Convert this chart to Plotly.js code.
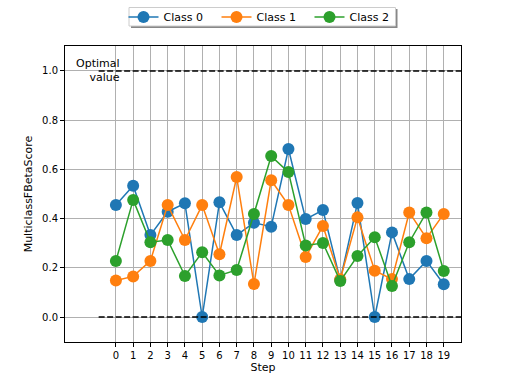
<!DOCTYPE html>
<html><head><meta charset="utf-8">
<script src="https://cdn.plot.ly/plotly-3.0.1.min.js"></script>
<style>body{margin:0;background:#fff}#c{width:512px;height:384px}</style>
</head><body><div id="c"></div>
<script>
const steps = [0,1,2,3,4,5,6,7,8,9,10,11,12,13,14,15,16,17,18,19];
const class0 = [0.455,0.534,0.333,0.428,0.462,0.0,0.466,0.333,0.383,0.367,0.683,0.398,0.435,0.150,0.463,0.0,0.344,0.154,0.228,0.133];
const class1 = [0.148,0.165,0.228,0.455,0.313,0.455,0.255,0.569,0.134,0.556,0.455,0.244,0.370,0.153,0.405,0.188,0.154,0.425,0.320,0.419];
const class2 = [0.228,0.476,0.304,0.313,0.167,0.263,0.169,0.191,0.419,0.654,0.589,0.291,0.301,0.146,0.248,0.324,0.126,0.304,0.425,0.187];
const seriesNames = ['Class 0','Class 1','Class 2'];
const colors = ['#1f77b4','#ff7f0e','#2ca02c'];
const refX = [-1, 20];
const optimal = [1.0, 1.0];
const zero = [0.0, 0.0];

const data = [class0, class1, class2].map((ys, i) => ({
  x: steps, y: ys, type: 'scatter', mode: 'lines+markers', name: seriesNames[i],
  line: {color: colors[i], width: 1.5},
  marker: {color: colors[i], size: 12}
}));
data.push({x: refX, y: optimal, mode: 'lines', showlegend: false, hoverinfo: 'skip',
  line: {color: '#000', width: 1.5, dash: '6px,2.5px'}});
data.push({x: refX, y: zero, mode: 'lines', showlegend: false, hoverinfo: 'skip',
  line: {color: '#000', width: 1.5, dash: '6px,2.5px'}});

const px = v => (v - 65) / 396;
const py = v => (342 - v) / 296;

const layout = {
  width: 512, height: 384,
  margin: {l: 65, r: 51, t: 46, b: 42, autoexpand: false},
  paper_bgcolor: '#fff', plot_bgcolor: '#fff',
  font: {family: 'DejaVu Sans', size: 11, color: '#000'},
  showlegend: true,
  legend: {orientation: 'h', x: 0.5, xanchor: 'center', y: py(17), yanchor: 'middle',
    borderwidth: 0, bgcolor: 'rgba(0,0,0,0)', font: {size: 11},
    entrywidth: 48},
  shapes: [
    {type: 'rect', xref: 'paper', yref: 'paper', layer: 'below',
     x0: px(131), x1: px(397.5), y0: py(28), y1: py(9),
     fillcolor: '#888', line: {width: 0}},
    {type: 'rect', xref: 'paper', yref: 'paper', layer: 'below',
     x0: px(129), x1: px(395.5), y0: py(26), y1: py(7.5),
     fillcolor: '#fff', line: {color: '#ccc', width: 1}}
  ],
  xaxis: {range: [-2.95, 20], tickmode: 'array', tickvals: steps, ticktext: steps.map(String),
    showgrid: true, gridcolor: '#b0b0b0', gridwidth: 1, zeroline: false,
    showline: true, mirror: true, linecolor: '#000', linewidth: 1,
    ticks: 'outside', ticklen: 4, tickcolor: '#000', tickfont: {size: 10},
    title: {text: 'Step', font: {size: 11}, standoff: 3}},
  yaxis: {range: [-0.1016, 1.1016], tickmode: 'array', tickvals: [0,0.2,0.4,0.6,0.8,1.0],
    ticktext: ['0.0','0.2','0.4','0.6','0.8','1.0'],
    showgrid: true, gridcolor: '#b0b0b0', gridwidth: 1, zeroline: false,
    showline: true, mirror: true, linecolor: '#000', linewidth: 1,
    ticks: 'outside', ticklen: 4, tickcolor: '#000', tickfont: {size: 10},
    title: {text: 'MulticlassFBetaScore', font: {size: 11}, standoff: 7}},
  annotations: [{x: 0.37, y: 1.0, xref: 'x', yref: 'y', text: 'Optimal<br>value',
    showarrow: false, xanchor: 'right', yanchor: 'middle', align: 'right', font: {size: 11}}]
};
Plotly.newPlot('c', data, layout, {staticPlot: true});
</script></body></html>
